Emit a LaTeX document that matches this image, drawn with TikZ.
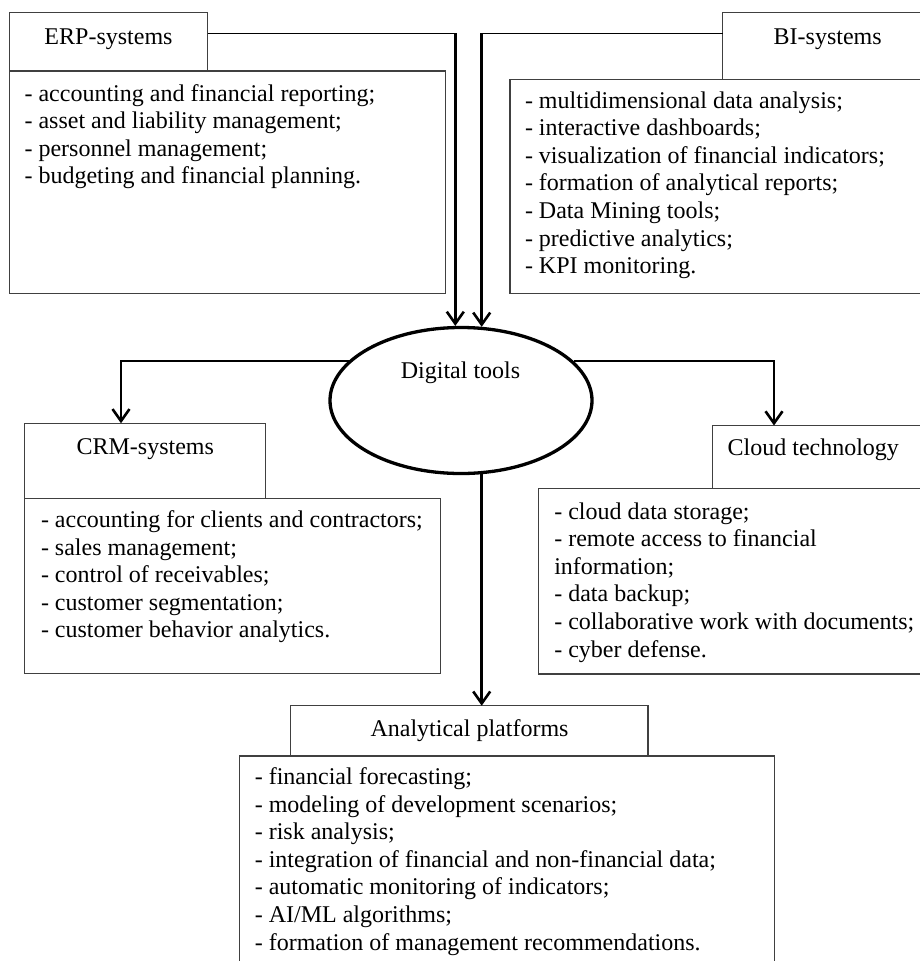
\documentclass[tikz,border=0pt]{standalone}
\usepackage{fontspec}
\setmainfont{Liberation Serif}
\usetikzlibrary{arrows.meta,shapes.geometric}
\definecolor{boxc}{HTML}{404040}
\begin{document}
\begin{tikzpicture}[x=1pt,y=-1pt,
  box/.style={draw=boxc, line width=1.3pt, rectangle, anchor=north west, inner sep=0pt, outer sep=0pt},
  txt/.style={inner sep=0pt, outer sep=0pt, font=\fontsize{24pt}{27.6pt}\selectfont},
  body/.style={txt, align=left, anchor=north west},
  link/.style={line width=1.5pt},
  arr/.style={line width=2.6pt, -{Straight Barb[length=12pt,width=17pt]}},
  oval/.style={draw, ellipse, line width=3.3pt, inner sep=0pt, minimum width=262pt, minimum height=146pt}
]
\useasboundingbox (0,0) rectangle (920,961);
\fill[white] (0,0) rectangle (920,961);
\clip (0,0) rectangle (920,961);

% boxes
\node[box, minimum width=198.1pt, minimum height=58.7pt] (erpT) at (9.4,12.3) {};
\node[box, minimum width=436.3pt, minimum height=222.3pt] (erpB) at (9.4,71) {};
\node[box, minimum width=220pt, minimum height=67pt] (biT) at (722.7,12.3) {};
\node[box, minimum width=430pt, minimum height=214pt] (biB) at (510,79.3) {};
\node[box, minimum width=241.3pt, minimum height=75pt] (crmT) at (24.4,423.3) {};
\node[box, minimum width=416pt, minimum height=175pt] (crmB) at (24.4,498.3) {};
\node[box, minimum width=230pt, minimum height=62.8pt] (clT) at (712.6,425.5) {};
\node[box, minimum width=402pt, minimum height=185.7pt] (clB) at (538.6,488.3) {};
\node[box, minimum width=357.2pt, minimum height=50.3pt] (anT) at (290.8,705.7) {};
\node[box, minimum width=535pt, minimum height=230pt] (anB) at (239.5,756) {};

% central ellipse
\node[oval] (dt) at (461,400.5) {};
\node[txt, anchor=base] (dtL) at (460.5,378.3) {Digital tools};

% titles
\node[txt, anchor=base] (erpL) at (108.5,44) {ERP-systems};
\node[txt, anchor=base] (biL) at (827.7,44) {BI-systems};
\node[txt, anchor=base] (crmL) at (145.3,454.5) {CRM-systems};
\node[txt, anchor=base] (clL) at (813.3,455.7) {Cloud technology};
\node[txt, anchor=base] (anL) at (469.5,736) {Analytical platforms};

% body texts
\node[body] (erpX) at (24.6,81.7) {\strut- accounting and financial reporting;\\- asset and liability management;\\- personnel management;\\- budgeting and financial planning.};
\node[body] (biX) at (525,88.7) {\strut- multidimensional data analysis;\\- interactive dashboards;\\- visualization of financial indicators;\\- formation of analytical reports;\\- Data Mining tools;\\- predictive analytics;\\- KPI monitoring.};
\node[body] (crmX) at (41,508.2) {\strut- accounting for clients and contractors;\\- sales management;\\- control of receivables;\\- customer segmentation;\\- customer behavior analytics.};
\node[body] (clX) at (554.3,499.7) {\strut- cloud data storage;\\- remote access to financial\\information;\\- data backup;\\- collaborative work with documents;\\- cyber defense.};
\node[body] (anX) at (254.8,765.2) {\strut- financial forecasting;\\- modeling of development scenarios;\\- risk analysis;\\- integration of financial and non-financial data;\\- automatic monitoring of indicators;\\- AI/ML algorithms;\\- formation of management recommendations.};

% connectors
\coordinate (c1) at (455.3,33.3);
\coordinate (c2) at (481.7,33.3);
\coordinate (c3) at (121,361);
\coordinate (c4) at (774,361);
\draw[link] (erpT.east |- c1) -- ([xshift=1.3pt]c1);
\draw[arr] ([yshift=-0.75pt]c1) -- (c1 |- dt.94.5);
\draw[link] (biT.west |- c2) -- ([xshift=-1.3pt]c2);
\draw[arr] ([yshift=-0.75pt]c2) -- (c2 |- dt.74);
\draw[link] (c3 -| dt.160.3) -- ([xshift=-1.3pt]c3);
\draw[arr] ([yshift=-0.75pt]c3) -- (c3 |- crmT.north);
\draw[link] (c4 -| dt.19.7) -- ([xshift=1.3pt]c4);
\draw[arr] ([yshift=-0.75pt]c4) -- (c4 |- clT.north);
\draw[arr] (c2 |- dt.-74) -- (c2 |- anT.north);
\end{tikzpicture}
\end{document}
